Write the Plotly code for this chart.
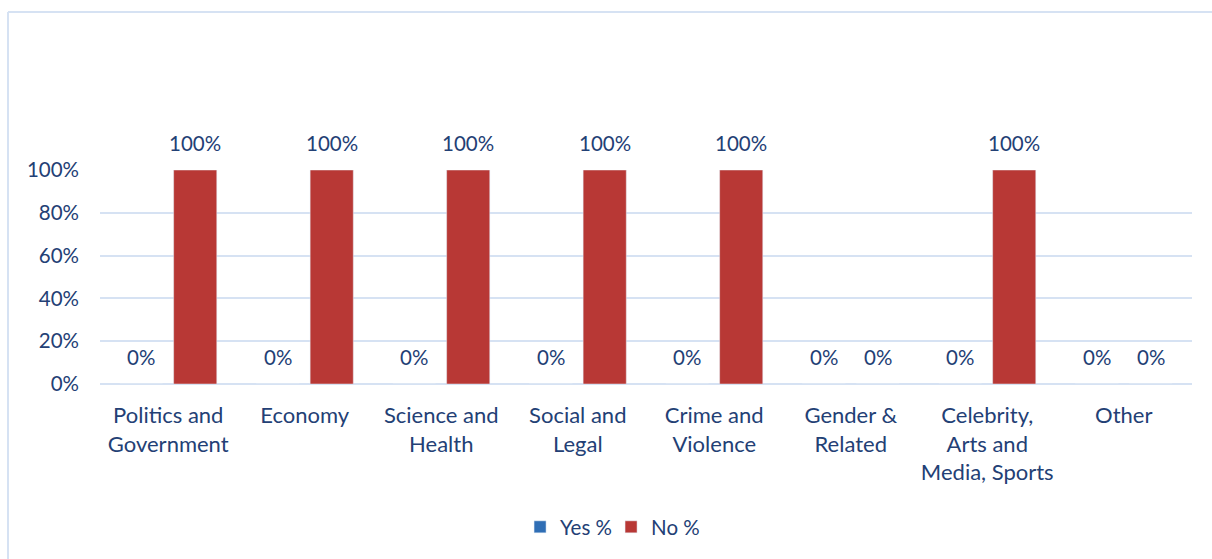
import plotly.graph_objects as go

categories = [
    "Politics and<br>Government",
    "Economy",
    "Science and<br>Health",
    "Social and<br>Legal",
    "Crime and<br>Violence",
    "Gender &<br>Related",
    "Celebrity,<br>Arts and<br>Media, Sports",
    "Other",
]
yes_pct = [0, 0, 0, 0, 0, 0, 0, 0]
no_pct = [1, 1, 1, 1, 1, 0, 1, 0]
y_ticks = [0, 0.2, 0.4, 0.6, 0.8, 1.0]
y_tick_labels = ["0%", "20%", "40%", "60%", "80%", "100%"]

W, H = 1212, 559
L, R, T, B = 100, 20, 170, 175
plot_w = W - L - R
plot_h = H - T - B

TEXT = "#234075"
GRID = "#D6E2F3"
FONT = "Lato"
FS = 20.5


def px_x(px):
    return (px - L) / plot_w


def px_y(py):
    return 1 - (py - T) / plot_h


fig = go.Figure()
fig.add_trace(go.Bar(
    name="Yes %", x=categories, y=yes_pct,
    marker=dict(color="#2F6EB5"),
))
fig.add_trace(go.Bar(
    name="No %", x=categories, y=no_pct,
    marker=dict(color="#B83835"),
))

# value labels above each bar
annotations = []
for series, shift in ((yes_pct, -27), (no_pct, 27)):
    for cat, v in zip(categories, series):
        annotations.append(dict(
            x=cat, y=v, xref="x", yref="y",
            text=f"{v:.0%}", showarrow=False,
            xshift=shift, yanchor="bottom", yshift=13,
            font=dict(family=FONT, size=FS, color=TEXT),
        ))

fig.update_layout(
    width=W, height=H,
    margin=dict(l=L, r=R, t=T, b=B),
    paper_bgcolor="white", plot_bgcolor="white",
    barmode="group", bargap=0.21, bargroupgap=0.2,
    font=dict(family=FONT, size=FS, color=TEXT),
    annotations=annotations,
    showlegend=True,
    legend=dict(
        orientation="h", x=0.468, xanchor="center",
        y=px_y(527), yanchor="middle",
        font=dict(family=FONT, size=FS, color=TEXT),
        itemwidth=30, traceorder="normal",
        entrywidth=46, entrywidthmode="pixels",
    ),
    shapes=[
        dict(type="line", xref="paper", yref="paper",
             x0=px_x(8), x1=px_x(1230), y0=px_y(12), y1=px_y(12),
             line=dict(color=GRID, width=2)),
        dict(type="line", xref="paper", yref="paper",
             x0=px_x(8), x1=px_x(8), y0=px_y(12), y1=px_y(580),
             line=dict(color=GRID, width=2)),
    ],
)
fig.update_xaxes(
    showgrid=False, showline=False, zeroline=False,
    tickfont=dict(family=FONT, size=22, color=TEXT),
    ticklabelstandoff=16,
)
fig.update_yaxes(
    range=[0, 1], tickvals=y_ticks, ticktext=y_tick_labels,
    showgrid=True, gridcolor=GRID, gridwidth=1.5,
    zeroline=True, zerolinecolor=GRID, zerolinewidth=1.5,
    showline=False,
    tickfont=dict(family=FONT, size=FS, color=TEXT),
    ticklabelstandoff=20,
)

fig.write_html("out.html")
